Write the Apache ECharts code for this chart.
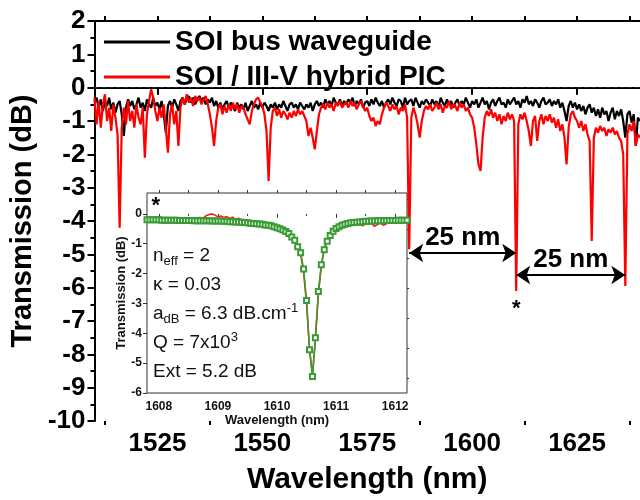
<!DOCTYPE html>
<html>
<head>
<meta charset="utf-8">
<script src="https://cdn.jsdelivr.net/npm/echarts@6/dist/echarts.min.js"></script>
<style>
  html, body { margin: 0; padding: 0; background: #fff; }
  #chart { width: 640px; height: 500px; }
</style>
</head>
<body>
<div id="chart"></div>
<script>
// ---- main spectra, one value every 0.5 nm from 1510 nm ----
const WL_START = 1510, WL_STEP = 0.5;

const busWaveguide = [
  -0.45,-0.3,-0.6,-0.35,-0.7,-0.4,-0.55,-0.3,-0.65,-0.45,-0.75,-0.5,-0.4,-0.8,-1.45,-0.6,-0.35,-0.55,-0.4,-0.65,
  -0.5,-0.3,-0.6,-0.45,-0.7,-0.35,-0.5,-0.6,-0.3,-0.55,-0.45,-0.65,-0.4,-0.8,-1.35,-0.55,-0.4,-0.6,-0.35,-0.5,
  -0.7,-0.4,-0.3,-0.5,-0.35,-0.25,-0.45,-0.3,-0.5,-0.35,-0.25,-0.4,-0.3,-0.5,-0.35,-0.45,-0.3,-0.55,-0.4,-0.6,
  -0.45,-0.65,-0.5,-0.4,-0.6,-0.45,-0.55,-0.7,-0.45,-0.6,-0.5,-0.65,-0.45,-0.7,-0.55,-0.4,-0.6,-0.5,-0.65,-0.45,
  -0.6,-0.45,-0.55,-0.7,-0.5,-0.6,-0.45,-0.65,-0.5,-0.6,-0.4,-0.55,-0.7,-0.5,-0.45,-0.6,-0.5,-0.65,-0.45,-0.55,
  -0.65,-0.5,-0.6,-0.45,-0.7,-0.5,-0.4,-0.55,-0.45,-0.6,-0.35,-0.5,-0.4,-0.55,-0.3,-0.45,-0.5,-0.35,-0.55,-0.4,
  -0.5,-0.35,-0.45,-0.3,-0.55,-0.4,-0.5,-0.35,-0.6,-0.45,-0.4,-0.55,-0.35,-0.5,-0.3,-0.45,-0.55,-0.4,-0.6,-0.45,
  -0.35,-0.5,-0.3,-0.45,-0.55,-0.35,-0.4,-0.6,-0.3,-0.5,-0.4,-0.35,-0.55,-0.3,-0.45,-0.6,-0.4,-0.5,-0.35,-0.45,
  -0.55,-0.35,-0.5,-0.4,-0.6,-0.3,-0.45,-0.55,-0.35,-0.5,-0.4,-0.6,-0.45,-0.35,-0.55,-0.4,-0.5,-0.3,-0.45,-0.6,
  -0.4,-0.5,-0.35,-0.6,-0.45,-0.3,-0.5,-0.4,-0.65,-0.45,-0.35,-0.55,-0.4,-0.3,-0.5,-0.45,-0.6,-0.35,-0.5,-0.4,
  -0.3,-0.5,-0.4,-0.6,-0.35,-0.45,-0.25,-0.5,-0.4,-0.55,-0.35,-0.45,-0.6,-0.4,-0.3,-0.5,-0.45,-0.35,-0.55,-0.4,
  -0.5,-0.35,-0.6,-0.45,-0.7,-1.0,-0.55,-0.4,-0.6,-0.45,-0.65,-0.5,-0.7,-0.55,-0.8,-0.6,-0.5,-0.75,-0.6,-0.85,
  -0.65,-0.9,-0.6,-0.8,-0.7,-1.0,-0.75,-0.6,-0.95,-0.7,-0.85,-0.65,-1.0,-1.5,-0.8,-0.7,-1.05,-0.8,-1.75,-0.9,
  -1.0
];

const hybridPIC = [
  -0.3,-1.1,-0.4,-1.2,-0.5,-0.2,-1.0,-0.6,-1.3,-0.5,-0.9,-1.4,-4.2,-1.2,-0.6,-1.1,-0.4,-1.0,-0.7,-1.2,
  -0.5,-0.9,-1.1,-0.6,-2.1,-0.8,-0.4,-0.05,-0.3,-0.7,-1.0,-0.6,-0.9,-0.5,-1.2,-1.95,-0.8,-0.5,-1.1,-0.7,
  -1.75,-0.6,-0.3,-0.5,-0.2,-0.45,-0.3,-0.55,-0.25,-0.4,-0.3,-0.5,-0.35,-0.25,-0.5,-0.8,-1.2,-1.75,-1.0,-0.6,
  -0.5,-0.8,-0.55,-0.75,-0.5,-0.7,-0.45,-0.65,-0.5,-0.75,-0.55,-0.6,-0.8,-0.95,-1.1,-0.7,-0.5,-0.35,-0.3,-0.45,
  -0.55,-0.8,-1.3,-2.8,-1.2,-0.7,-0.6,-0.85,-0.65,-0.9,-0.7,-0.8,-0.95,-0.75,-0.9,-0.7,-0.85,-0.65,-0.8,-0.7,
  -0.85,-1.0,-1.45,-1.2,-1.5,-1.85,-1.3,-0.8,-0.6,-0.5,-0.65,-0.45,-0.6,-0.5,-0.7,-0.45,-0.55,-0.4,-0.6,-0.5,
  -0.45,-0.6,-0.4,-0.55,-0.45,-0.65,-0.5,-0.4,-0.55,-0.7,-0.6,-0.85,-1.0,-0.9,-1.15,-1.0,-1.1,-0.8,-0.6,-0.45,
  -0.55,-0.7,-0.5,-0.65,-0.55,-0.8,-0.6,-0.7,-0.5,-0.9,-4.85,-0.9,-0.6,-0.8,-1.1,-1.5,-1.0,-0.7,-0.55,-0.65,
  -0.5,-0.7,-0.6,-0.45,-0.65,-0.5,-0.75,-0.55,-0.6,-0.4,-0.65,-0.5,-0.55,-0.7,-0.45,-0.6,-0.5,-0.7,-0.6,-0.8,
  -0.9,-1.2,-1.7,-2.3,-2.5,-1.5,-0.9,-0.7,-0.85,-0.65,-0.9,-0.75,-1.0,-0.8,-1.1,-0.85,-1.0,-0.75,-0.95,-0.8,
  -1.0,-6.1,-1.1,-0.8,-0.95,-0.75,-1.0,-1.3,-1.75,-1.0,-0.85,-1.6,-1.0,-0.8,-1.1,-0.85,-1.0,-0.8,-1.05,-0.9,
  -1.2,-0.95,-1.3,-1.1,-1.5,-2.3,-1.2,-0.8,-0.7,-0.9,-1.0,-1.2,-1.0,-1.3,-1.1,-1.4,-1.6,-4.6,-1.5,-1.2,
  -1.35,-1.15,-1.3,-1.2,-1.45,-1.25,-1.35,-1.2,-1.4,-1.3,-1.5,-1.6,-2.0,-5.95,-1.4,-1.1,-1.3,-1.0,-1.75,-1.4,
  -1.5
];

// ---- inset: the resonance marked *, one value every 0.05 nm from 1607.8 nm ----
const INSET_START = 1607.8, INSET_STEP = 0.05;

const insetMeasured = [
  -0.25,-0.27,-0.24,-0.26,-0.23,-0.25,-0.27,-0.24,-0.26,-0.25,-0.23,-0.27,-0.24,-0.26,-0.28,-0.2,-0.13,-0.15,-0.12,-0.14,
  -0.06,-0.02,0.0,-0.04,-0.1,-0.07,-0.12,-0.09,-0.15,-0.11,-0.2,-0.14,-0.22,-0.25,-0.28,-0.3,-0.34,-0.37,-0.33,-0.3,
  -0.35,-0.37,-0.38,-0.42,-0.45,-0.49,-0.55,-0.58,-0.65,-0.78,-0.9,-1.05,-1.35,-1.95,-3.0,-4.5,-5.4,-4.2,-2.7,-1.75,
  -1.15,-0.85,-0.7,-0.55,-0.48,-0.4,-0.33,-0.3,-0.27,-0.32,-0.28,-0.3,-0.35,-0.4,-0.3,-0.28,-0.33,-0.42,-0.36,-0.3,
  -0.38,-0.33,-0.28,-0.31,-0.27,-0.3,-0.26,-0.28,-0.27
];

const insetFit = [
  -0.2,-0.2,-0.2,-0.2,-0.2,-0.21,-0.21,-0.21,-0.21,-0.21,-0.21,-0.22,-0.22,-0.22,-0.22,-0.22,-0.23,-0.23,-0.23,-0.23,
  -0.23,-0.23,-0.24,-0.24,-0.24,-0.24,-0.25,-0.25,-0.26,-0.26,-0.27,-0.27,-0.28,-0.29,-0.3,-0.31,-0.32,-0.33,-0.34,-0.35,
  -0.37,-0.38,-0.4,-0.43,-0.46,-0.5,-0.54,-0.59,-0.66,-0.77,-0.88,-1.1,-1.3,-1.85,-2.9,-4.55,-5.45,-4.15,-2.6,-1.7,
  -1.2,-0.92,-0.72,-0.58,-0.49,-0.43,-0.38,-0.35,-0.32,-0.3,-0.29,-0.28,-0.27,-0.26,-0.25,-0.25,-0.24,-0.24,-0.23,-0.23,
  -0.23,-0.22,-0.22,-0.22,-0.22,-0.21,-0.21,-0.21,-0.21
];

// ---- ticks / annotations ----
const mainMajorTicks = [1525, 1550, 1575, 1600, 1625];
const mainMinorTicks = [1512.5, 1537.5, 1562.5, 1587.5, 1612.5, 1637.5];
const insetXMajor = [1608, 1609, 1610, 1611, 1612];
const insetXMinor = [1608.5, 1609.5, 1610.5, 1611.5];
const insetYMajor = [-6, -5, -4, -3, -2, -1, 0];
const insetYMinor = [-5.5, -4.5, -3.5, -2.5, -1.5, -0.5, 0.5];
// [from nm, to nm, level dB]
const fsrArrows = [[1585, 1610.5, -4.96], [1610.5, 1636.5, -5.62]];
const fsrLabel = "25 nm";
// fit parameters; part kinds: 0 normal, -1 subscript, 1 superscript
const fitParams = [
  [["n", 0], ["eff", -1], [" = 2", 0]],
  [["κ = 0.03", 0]],
  [["a", 0], ["dB", -1], [" = 6.3 dB.cm", 0], ["-1", 1]],
  [["Q = 7x10", 0], ["3", 1]],
  [["Ext = 5.2 dB", 0]]
];

const FONT = '"Liberation Sans", Arial, Helvetica, sans-serif';
const plain = v => String(v);

function toPoints(start, step, values) {
  return values.map((v, i) => [+(start + i * step).toFixed(2), v]);
}

const ctx2d = document.createElement("canvas").getContext("2d");
function textWidth(t, size) {
  ctx2d.font = size + "px " + FONT;
  return ctx2d.measureText(t).width;
}

// inset fit-parameter text block
const paramGraphics = [];
fitParams.forEach((line, li) => {
  const base = 262 + li * 29;
  let x = 153;
  line.forEach(([txt, kind]) => {
    const size = kind === 0 ? 19 : 13;
    const mid = kind === 0 ? base - 6.5 : kind < 0 ? base - 0.5 : base - 11.5;
    paramGraphics.push({
      type: "text", x: x, y: mid, z: 100,
      style: { text: txt, fontSize: size, fontFamily: FONT, fill: "#111", verticalAlign: "middle" }
    });
    x += textWidth(txt, size);
  });
});

const chart = echarts.init(document.getElementById("chart"), null, { renderer: "canvas" });

const axisBlack = { color: "#000", width: 2 };
const insetLine = { color: "#333", width: 1 };
const mainRange = { min: 1510, max: 1640 };
const insetRange = { min: 1607.8, max: 1612.2 };

chart.setOption({
  animation: false,
  textStyle: { fontFamily: FONT },
  legend: {
    data: ["SOI bus waveguide", "SOI / III-V hybrid PIC"],
    orient: "vertical", left: 99, top: 23,
    icon: "rect", itemWidth: 66, itemHeight: 3, itemGap: 7,
    textStyle: { fontSize: 28, fontWeight: "bold", color: "#000" }
  },
  grid: [
    { left: 92, top: 21, width: 551, height: 406 },
    { left: 147, top: 193, width: 260, height: 200, show: true, backgroundColor: "#fff", borderColor: "#333", borderWidth: 1 }
  ],
  xAxis: [
    {
      gridIndex: 0, type: "value", position: "bottom", ...mainRange,
      axisLine: { show: true, lineStyle: axisBlack },
      axisTick: { customValues: mainMajorTicks, length: 7, lineStyle: axisBlack },
      axisLabel: { customValues: mainMajorTicks, formatter: plain, fontSize: 26, fontWeight: "bold", color: "#000", margin: 10 },
      splitLine: { show: false },
      name: "Wavelength (nm)", nameLocation: "middle", nameGap: 44,
      nameTextStyle: { fontSize: 30, fontWeight: "bold", color: "#000" }
    },
    {
      gridIndex: 0, type: "value", position: "bottom", ...mainRange,
      axisLine: { show: false },
      axisTick: { customValues: mainMinorTicks, length: 4, lineStyle: axisBlack },
      axisLabel: { show: false }, splitLine: { show: false }
    },
    {
      gridIndex: 0, type: "value", position: "top", ...mainRange,
      axisLine: { show: true, lineStyle: axisBlack },
      axisTick: { customValues: mainMajorTicks.concat(mainMinorTicks), length: 5, lineStyle: axisBlack },
      axisLabel: { show: false }, splitLine: { show: false }
    },
    {
      gridIndex: 1, type: "value", position: "bottom", ...insetRange,
      axisLine: { show: false },
      axisTick: { customValues: insetXMajor, length: 4, lineStyle: insetLine },
      axisLabel: { customValues: insetXMajor, formatter: plain, fontSize: 12, fontWeight: "bold", color: "#111", margin: 8 },
      splitLine: { show: false },
      name: "Wavelength (nm)", nameLocation: "middle", nameGap: 19,
      nameTextStyle: { fontSize: 13, fontWeight: "bold", color: "#111" }
    },
    {
      gridIndex: 1, type: "value", position: "bottom", ...insetRange,
      axisLine: { show: false },
      axisTick: { customValues: insetXMinor, length: 2, lineStyle: insetLine },
      axisLabel: { show: false }, splitLine: { show: false }
    },
    {
      gridIndex: 1, type: "value", position: "top", ...insetRange,
      axisLine: { show: false },
      axisTick: { customValues: insetXMajor.concat(insetXMinor), length: 3, lineStyle: insetLine },
      axisLabel: { show: false }, splitLine: { show: false }
    }
  ],
  yAxis: [
    {
      gridIndex: 0, type: "value", min: -10, max: 2, interval: 1,
      axisLine: { show: true, lineStyle: axisBlack },
      axisTick: { length: 7, lineStyle: axisBlack },
      minorTick: { show: true, splitNumber: 2, length: 4, lineStyle: axisBlack },
      axisLabel: { fontSize: 26, fontWeight: "bold", color: "#000", margin: 9 },
      splitLine: { show: false }, minorSplitLine: { show: false },
      name: "Transmission (dB)", nameLocation: "middle", nameGap: 55,
      nameTextStyle: { fontSize: 29, fontWeight: "bold", color: "#000" }
    },
    {
      gridIndex: 1, type: "value", min: -6, max: 0.7,
      axisLine: { show: false },
      axisTick: { customValues: insetYMajor, length: 4, lineStyle: insetLine },
      axisLabel: { customValues: insetYMajor, fontSize: 12, fontWeight: "bold", color: "#111", margin: 5 },
      splitLine: { show: false },
      name: "Transmission (dB)", nameLocation: "middle", nameGap: 14,
      nameTextStyle: { fontSize: 13, fontWeight: "bold", color: "#111" }
    },
    {
      gridIndex: 1, type: "value", min: -6, max: 0.7,
      axisLine: { show: false },
      axisTick: { customValues: insetYMinor, length: 2, lineStyle: insetLine },
      axisLabel: { show: false }, splitLine: { show: false }
    }
  ],
  series: [
    {
      name: "SOI bus waveguide", type: "line", xAxisIndex: 0, yAxisIndex: 0,
      data: toPoints(WL_START, WL_STEP, busWaveguide),
      showSymbol: false, color: "#000",
      lineStyle: { color: "#000", width: 2.2 },
      markLine: {
        silent: true, symbol: "none", label: { show: false },
        lineStyle: { type: "dashed", color: "#222", width: 1.2 },
        data: [{ yAxis: 0 }]
      }
    },
    {
      name: "SOI / III-V hybrid PIC", type: "line", xAxisIndex: 0, yAxisIndex: 0,
      data: toPoints(WL_START, WL_STEP, hybridPIC),
      showSymbol: false, color: "#ff0000",
      lineStyle: { color: "#ff0000", width: 2.2 },
      markLine: {
        silent: true, symbol: ["arrow", "arrow"], symbolSize: 14,
        lineStyle: { type: "solid", color: "#000", width: 2 },
        label: {
          show: true, position: "insideMiddleTop", formatter: fsrLabel, distance: 2,
          fontSize: 26, fontWeight: "bold", color: "#000"
        },
        data: fsrArrows.map(([a, b, y]) => [{ coord: [a, y] }, { coord: [b, y] }])
      },
      markPoint: {
        silent: true, symbol: "circle", symbolSize: 0,
        label: { show: true, formatter: "*", fontSize: 22, fontWeight: "bold", color: "#000" },
        data: [{ coord: [1610.5, -6.65] }]
      }
    },
    {
      name: "measured", type: "line", xAxisIndex: 3, yAxisIndex: 1,
      data: toPoints(INSET_START, INSET_STEP, insetMeasured),
      showSymbol: false, lineStyle: { color: "#ff1a1a", width: 1.6 },
      markPoint: {
        silent: true, symbol: "circle", symbolSize: 0,
        label: { show: true, formatter: "*", fontSize: 22, fontWeight: "bold", color: "#000" },
        data: [{ coord: [1607.95, 0.25] }]
      }
    },
    {
      name: "fit", type: "line", xAxisIndex: 3, yAxisIndex: 1,
      data: toPoints(INSET_START, INSET_STEP, insetFit),
      symbol: "emptyRect", symbolSize: 5, showAllSymbol: true,
      itemStyle: { color: "#3a9a35", borderColor: "#3a9a35", borderWidth: 1.2 },
      lineStyle: { color: "#3a9a35", width: 1.6 }
    }
  ],
  graphic: paramGraphics
});

window.addEventListener("resize", () => chart.resize());
</script>
</body>
</html>
